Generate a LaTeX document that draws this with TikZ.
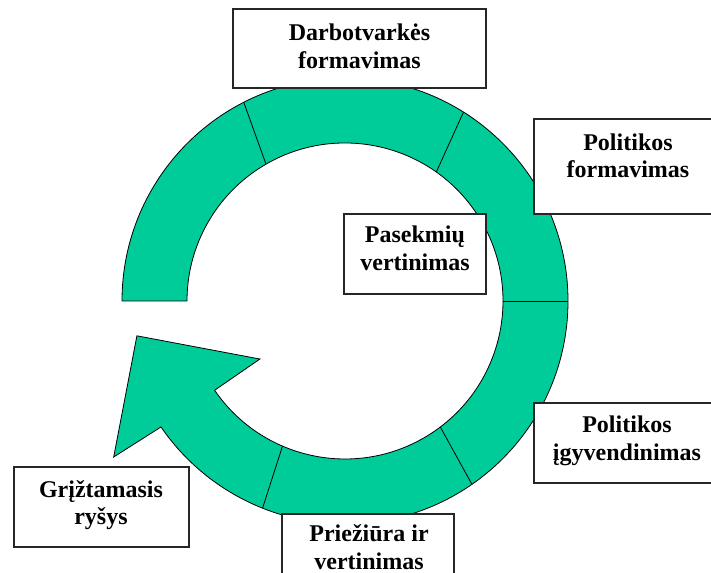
\documentclass[tikz,border=0pt]{standalone}
\usepackage{fontspec}
\setmainfont{Liberation Serif}
\definecolor{ringgreen}{RGB}{0,204,153}
\begin{document}
\begin{tikzpicture}[x=0.75pt,y=0.75pt,
  box/.style={draw=black!85, line width=1pt, fill=white},
  lbl/.style={align=center, font=\fontsize{18}{20.6}\selectfont\bfseries, inner sep=0pt},
  ring/.style={fill=ringgreen, draw=black, line width=0.6pt},
  divider/.style={draw=black, line width=0.6pt}]
\useasboundingbox (0,0) rectangle (711,573);
\clip (0,0) rectangle (711,573);
\begin{scope}[shift={(345,272)}]
  \draw[ring] (180:223) arc[start angle=180, end angle=-145.6, radius=223]
    -- (-146:279) -- (-170.5:211) -- (-145.7:103) -- (-145.6:158)
    arc[start angle=-145.6, end angle=180, radius=158] -- cycle;
  \draw[divider] (117:223) -- (120:158);
  \draw[divider] (57.9:223) -- (54.7:158);
  \draw[divider] (0:223) -- (0:158);
  \draw[divider] (-55.3:223) -- (-52.9:158);
  \draw[divider] (-111.7:223) -- (-113.3:158);
\end{scope}
\draw[box] (233,564) rectangle (486,485);
\draw[box] (534,454) rectangle (720,359);
\draw[box] (344,359) rectangle (486,279);
\draw[box] (534,170) rectangle (720,90);
\draw[box] (282,59) rectangle (454,-10);
\draw[box] (14,106) rectangle (189,26);
\node[lbl] (agenda) at (359.5,526.5) {Darbotvarkės\\formavimas};
\node[lbl] (polform) at (628,417) {Politikos\\formavimas};
\node[lbl] (pasek) at (415,324.5) {Pasekmių\\vertinimas};
\node[lbl] (polimpl) at (627,132) {Politikos\\įgyvendinimas};
\node[lbl] (monitor) at (369,26) {Priežiūra ir\\vertinimas};
\node[lbl] (feedback) at (101,68) {Grįžtamasis\\ryšys};
\end{tikzpicture}
\end{document}
